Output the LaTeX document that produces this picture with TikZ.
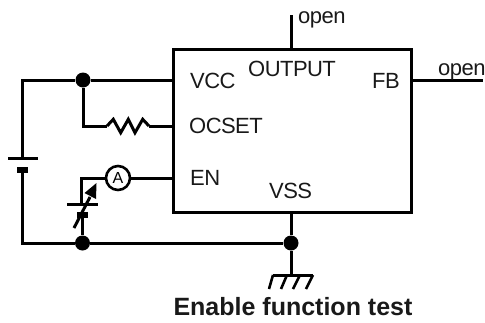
\documentclass[tikz,border=0pt]{standalone}
\usepackage{fontspec}
\setmainfont{Liberation Sans}
\newfontfamily\labfont[LetterSpace=-2.5]{Liberation Sans}
\usetikzlibrary{arrows.meta}
\tikzset{
  wire/.style={line width=3pt,line join=miter},
  lab/.style={font=\labfont\fontsize{22}{24}\selectfont,inner sep=0pt,text=black!90},
  junction/.style={circle,fill=black,inner sep=0pt,minimum size=15pt},
  plate/.style={line width=3pt},
  short plate/.style={line width=6.5pt},
}
\begin{document}
\begin{tikzpicture}[x=1pt,y=-1pt]
\useasboundingbox (0,0) rectangle (485,322);
\node[draw,line width=3.2pt,minimum width=238pt,minimum height=163pt,anchor=north west,inner sep=0pt] (ic) at (172,48) {};
\node[junction] (jt) at (83,80) {};
\node[junction] (jb) at (82.5,243) {};
\node[junction] (jg) at (291,243) {};
\node[draw,circle,line width=2.6pt,fill=white,minimum size=24pt,inner sep=0pt,font=\fontsize{16}{16}\selectfont] (am) at (118,178) {A};
\coordinate (vccpin) at (172,80);
\coordinate (ocpin) at (172,126);
\coordinate (enpin) at (172,178);
\coordinate (outtop) at (291,48);
\coordinate (outend) at (291,15);
\coordinate (fbpin) at (410,80);
\coordinate (fbend) at (483,80);
\coordinate (vsspin) at (291,212);
\coordinate (gnd) at (291,275);
\coordinate (tl) at (22.5,80);
\coordinate (bl) at (22.5,243);
\coordinate (batA) at (22.5,158);
\coordinate (batB) at (22.5,170);
\coordinate (ocb) at (83,126);
\coordinate (ra) at (107,126);
\coordinate (rb) at (149,126);
\coordinate (vtop) at (81.5,178);
\coordinate (vA) at (81.5,204);
\coordinate (vB) at (82.5,215);
% wires
\draw[wire] (jt) -- (tl) -- (batA);
\draw[wire] (batB) -- (bl) -- (jb);
\draw[wire] (jt) -- (vccpin);
\draw[wire] (jt) -- (ocb) -- (ra);
\draw[wire] (rb) -- (ocpin);
\draw[wire] (ra) -- (113.3,119.3) -- (120.7,132.7) -- (128.3,119.3) -- (135,132.7) -- (142.7,119.3) -- (rb);
\draw[wire] (am) -- (enpin);
\draw[wire] (am) -- (vtop) -- (vA);
\draw[wire] (vB) -- (jb);
\draw[wire] (jb) -- (jg);
\draw[wire] (outtop) -- (outend);
\draw[wire] (fbpin) -- (fbend);
\draw[wire] (vsspin) -- (jg) -- (gnd);
% main battery
\draw[plate] (8,158) -- (38,158);
\draw[short plate] (17,170) -- (28,170);
% variable battery
\draw[plate] (67,204) -- (98,204);
\draw[short plate] (77,215) -- (88,215);
\draw[line width=3pt] (74,228) -- (90,197);
\fill (96.5,183) -- (84.5,193) -- (96,199) -- cycle;
% ground
\draw[wire] (273,275) -- (313,275);
\draw[line width=2.6pt] (273,275) -- (269,289);
\draw[line width=2.6pt] (287,275) -- (281,289);
\draw[line width=2.6pt] (300,275) -- (293,289);
\draw[line width=2.6pt] (313,275) -- (306,289);
% labels
\node[lab,anchor=base west] (t1) at (190,88) {VCC};
\node[lab,anchor=base west] (t2) at (248,76) {OUTPUT};
\node[lab,anchor=base west] (t3) at (372,88) {FB};
\node[lab,anchor=base west] (t4) at (189,133) {OCSET};
\node[lab,anchor=base west] (t5) at (190,185) {EN};
\node[lab,anchor=base west] (t6) at (269,198) {VSS};
\node[lab,anchor=base west] (t7) at (298,23) {open};
\node[lab,anchor=base west] (t8) at (438,75) {open};
\node[inner sep=0pt,text=black!90,anchor=base,font=\bfseries\fontsize{25}{28}\selectfont] (t9) at (293,315) {Enable function test};
\end{tikzpicture}
\end{document}
